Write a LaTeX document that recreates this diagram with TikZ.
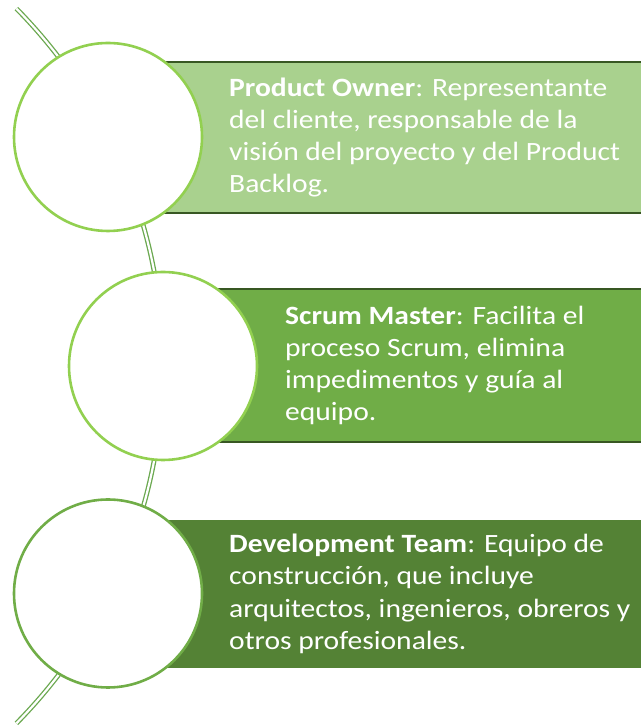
\documentclass[tikz,border=0pt]{standalone}
\usepackage{fontspec}
\setmainfont{Carlito}[FakeStretch=1.12]
\definecolor{fillA}{HTML}{A9D18E}
\definecolor{fillB}{HTML}{70AD47}
\definecolor{fillC}{HTML}{548235}
\definecolor{ringA}{HTML}{92D050}
\definecolor{ringC}{HTML}{70AD47}
\definecolor{connG}{HTML}{6AA84F}
\definecolor{edgeD}{HTML}{385723}
\tikzset{
  bar/.style={rectangle, minimum width=560pt, minimum height=#1, anchor=west, inner sep=0pt},
  ring/.style={circle, minimum size=188pt, inner sep=0pt, line width=2.6pt, fill=white},
  txt/.style={text=white, align=left, anchor=west, inner sep=0pt, font=\fontsize{26.4}{32.3}\selectfont},
  conn/.style={draw=connG, double=white, line width=1.3pt, double distance=2.2pt}
}
\begin{document}
\begin{tikzpicture}[x=1pt,y=1pt]
\useasboundingbox (0,0) rectangle (640,727);
% connector arc (behind everything)
\coordinate (top) at (16.4,718.4);
\draw[conn] (top) arc[start angle=44.6, end angle=-44.6, radius=509] coordinate (bottom);
% bars
\node[bar=151pt, fill=fillA, draw=edgeD, line width=1.6pt] (r1) at (108,589.5) {};
\node[bar=153pt, fill=fillB, draw=edgeD, line width=1.6pt] (r2) at (140,361.5) {};
\node[bar=148pt, fill=fillC] (r3) at (108,133) {};
% circles
\node[ring, draw=ringA] (c1) at (108,590) {};
\node[ring, draw=ringA] (c2) at (163,361) {};
\node[ring, draw=ringC] (c3) at (108,133.5) {};
% texts
\node[txt] (t1) at (229,589.5) {\textbf{Product Owner}: Representante\\del cliente, responsable de la\\visión del proyecto y del Product\\Backlog.};
\node[txt] (t2) at (285,361.5) {\textbf{Scrum Master}: Facilita el\\proceso Scrum, elimina\\impedimentos y guía al\\equipo.};
\node[txt] (t3) at (229,133) {\textbf{Development Team}: Equipo de\\construcción, que incluye\\arquitectos, ingenieros, obreros y\\otros profesionales.};
\end{tikzpicture}
\end{document}
